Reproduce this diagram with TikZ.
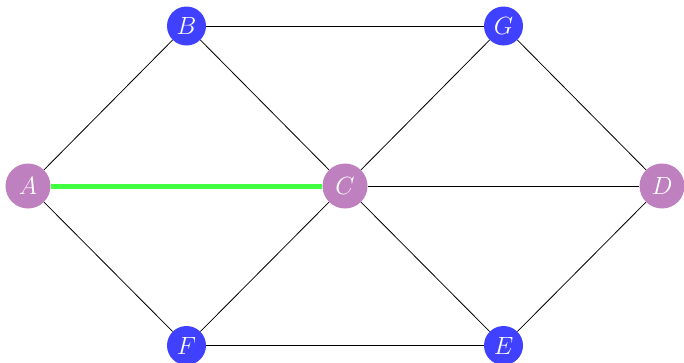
\documentclass[tikz,border=0pt]{standalone}
\begin{document}
\begin{tikzpicture}[x=1pt,y=-1pt,
  vbase/.style={circle,inner sep=0pt,text=white,font=\fontsize{26}{30}\selectfont},
  bluev/.style={vbase,fill=blue!75,minimum size=39pt},
  purplev/.style={vbase,fill=violet!50,minimum size=45pt},
  edge/.style={draw=black,line width=0.8pt},
  hl/.style={draw=green!75,line width=5pt}]
\useasboundingbox (0,0) rectangle (684,362);
\node[purplev] (A) at (28,186) {$A$};
\node[purplev] (C) at (345,186) {$C$};
\node[purplev] (D) at (662,186) {$D$};
\node[bluev] (B) at (186.5,26) {$B$};
\node[bluev] (G) at (503.5,26) {$G$};
\node[bluev] (F) at (186.5,345.5) {$F$};
\node[bluev] (E) at (503.5,345.5) {$E$};
\draw[edge] (A) -- (B);
\draw[edge] (A) -- (F);
\draw[edge] (B) -- (G);
\draw[edge] (B) -- (C);
\draw[edge] (G) -- (C);
\draw[edge] (G) -- (D);
\draw[edge] (C) -- (D);
\draw[edge] (C) -- (F);
\draw[edge] (C) -- (E);
\draw[edge] (F) -- (E);
\draw[edge] (E) -- (D);
\draw[hl] (A) -- (C);
\end{tikzpicture}
\end{document}
